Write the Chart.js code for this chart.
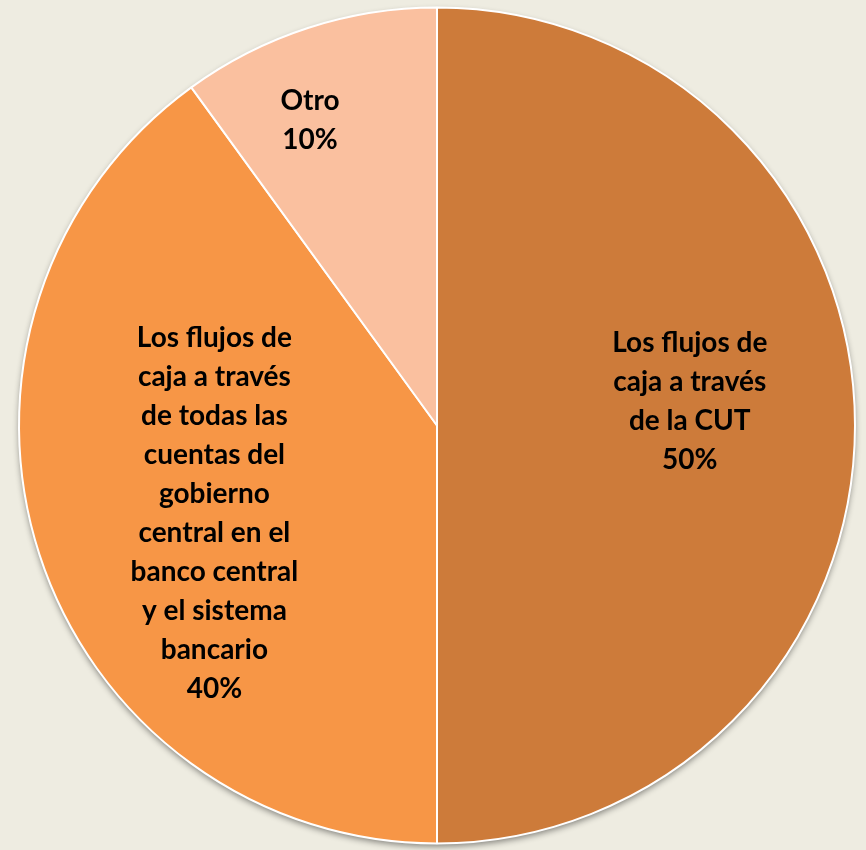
<!DOCTYPE html>
<html>
<head>
<meta charset="utf-8">
<script src="https://cdn.jsdelivr.net/npm/chart.js@4"></script>
<style>
  html, body { margin: 0; padding: 0; background: #EEECE1; }
  #wrap { width: 866px; height: 850px; }
</style>
</head>
<body>
<div id="wrap"><canvas id="pie" width="866" height="850"></canvas></div>
<script>
const categories = [
  ["Los flujos de", "caja a través", "de la CUT"],
  ["Los flujos de", "caja a través", "de todas las", "cuentas del", "gobierno", "central en el", "banco central", "y el sistema", "bancario"],
  ["Otro"]
]
const shares = [50, 40, 10]
const sliceColors = ["#CD7B3A", "#F79646", "#FAC09F"]

// where each label block sits: fraction of radius from the centre, plus a nudge
const labelDist = [0.60, 0.56, 0.79]
const labelShift = [[2, -24], [0, 16], [-25, 9]]

const pieShadow = {
  id: 'pieShadow',
  beforeDatasetsDraw(chart) {
    const arc = chart.getDatasetMeta(0).data[0]
    const ctx = chart.ctx
    ctx.save()
    ctx.shadowColor = 'rgba(0,0,0,0.45)'
    ctx.shadowBlur = 6
    ctx.shadowOffsetY = 3
    ctx.fillStyle = '#ffffff'
    ctx.beginPath()
    ctx.arc(arc.x, arc.y, arc.outerRadius, 0, Math.PI * 2)
    ctx.fill()
    ctx.restore()
  }
}

const sliceLabels = {
  id: 'sliceLabels',
  afterDatasetsDraw(chart) {
    const ctx = chart.ctx
    const total = shares.reduce((a, b) => a + b, 0)
    ctx.save()
    ctx.font = 'bold 28px Lato'
    ctx.fillStyle = '#000000'
    ctx.textAlign = 'center'
    ctx.textBaseline = 'middle'
    const lineH = 39
    chart.getDatasetMeta(0).data.forEach((arc, i) => {
      const mid = (arc.startAngle + arc.endAngle) / 2
      const r = arc.outerRadius * labelDist[i]
      const cx = arc.x + Math.cos(mid) * r + labelShift[i][0]
      const cy = arc.y + Math.sin(mid) * r + labelShift[i][1]
      const lines = categories[i].concat([Math.round(shares[i] / total * 100) + '%'])
      const top = cy - (lines.length - 1) * lineH / 2
      lines.forEach((t, k) => ctx.fillText(t, cx, top + k * lineH))
    })
    ctx.restore()
  }
}

new Chart(document.getElementById('pie').getContext('2d'), {
  type: 'pie',
  data: {
    labels: categories.map(c => c.join(' ')),
    datasets: [{
      data: shares,
      backgroundColor: sliceColors,
      borderColor: '#ffffff',
      borderWidth: 2
    }]
  },
  options: {
    responsive: false,
    animation: false,
    layout: { padding: { left: 18, right: 10, top: 6, bottom: 5 } },
    plugins: {
      legend: { display: false },
      tooltip: { enabled: false }
    }
  },
  plugins: [pieShadow, sliceLabels]
})
</script>
</body>
</html>
